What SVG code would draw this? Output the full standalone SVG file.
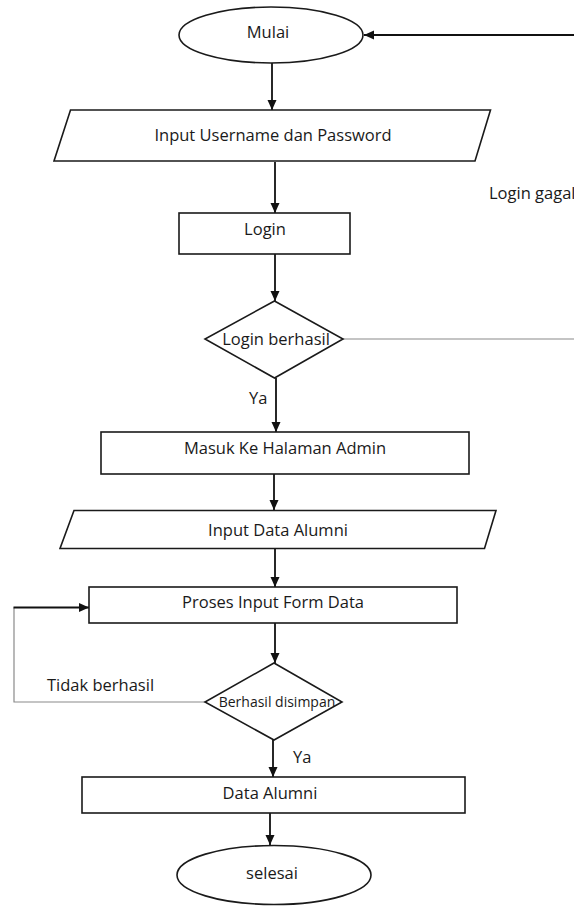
<svg xmlns="http://www.w3.org/2000/svg" width="574" height="906" viewBox="0 0 574 906">
<style>
.shape{fill:#fff;stroke:#1a1a1a;stroke-width:1.6}
.t{font-family:"Open Sans","Liberation Sans",sans-serif;font-size:16.5px;fill:#1a1a1a;text-anchor:middle}
.lbl{font-family:"Open Sans","Liberation Sans",sans-serif;font-size:16.5px;fill:#1a1a1a}
.c{fill:none;stroke:#111;stroke-width:1.8}
.g{fill:none;stroke:#8a8a8a;stroke-width:1.2}
</style>
<defs>
<marker id="ah" markerUnits="userSpaceOnUse" markerWidth="12" markerHeight="12" viewBox="0 0 12 12" refX="11" refY="6" orient="auto">
<path d="M1,1.5 L11,6 L1,10.5 Z" fill="#111"/>
</marker>
</defs>
<rect width="574" height="906" fill="#fff"/>
<g id="connectors">
<line class="c" x1="272" y1="63" x2="272" y2="110" marker-end="url(#ah)"/>
<line class="c" x1="275" y1="162" x2="275" y2="213" marker-end="url(#ah)"/>
<line class="c" x1="275" y1="254" x2="275" y2="301" marker-end="url(#ah)"/>
<line class="g" x1="343" y1="339" x2="574" y2="339"/>
<line class="c" x1="574" y1="35" x2="364" y2="35" marker-end="url(#ah)"/>
<line class="c" x1="276" y1="378" x2="276" y2="432" marker-end="url(#ah)"/>
<line class="c" x1="274" y1="474" x2="274" y2="510" marker-end="url(#ah)"/>
<line class="c" x1="275" y1="549" x2="275" y2="587" marker-end="url(#ah)"/>
<line class="c" x1="275" y1="623" x2="275" y2="663" marker-end="url(#ah)"/>
<polyline class="g" points="205,702 14,702 14,607.5"/>
<line class="c" x1="13.5" y1="607.5" x2="89" y2="607.5" marker-end="url(#ah)"/>
<line class="c" x1="273" y1="740" x2="273" y2="777" marker-end="url(#ah)"/>
<line class="c" x1="270" y1="813" x2="270" y2="845" marker-end="url(#ah)"/>
</g>
<g id="mulai">
<ellipse class="shape" cx="271" cy="35" rx="92" ry="28"/>
<text class="t" x="268" y="37.5">Mulai</text>
</g>
<g id="input-login">
<polygon class="shape" points="70.5,110 490.5,110 475,161 54,161"/>
<text class="t" x="273" y="140.5">Input Username dan Password</text>
</g>
<g id="login">
<rect class="shape" x="179" y="213" width="171" height="41"/>
<text class="t" x="265" y="234.5">Login</text>
</g>
<g id="cek-login">
<polygon class="shape" points="274.5,301 343,339 274.5,378 205,339"/>
<text class="t" x="276" y="344.5">Login berhasil</text>
</g>
<g id="label-gagal">
<text class="lbl" x="489" y="199">Login gagal</text>
</g>
<g id="label-ya1">
<text class="lbl" x="249" y="403.5">Ya</text>
</g>
<g id="admin">
<rect class="shape" x="101" y="432" width="368" height="42"/>
<text class="t" x="285" y="453.5">Masuk Ke Halaman Admin</text>
</g>
<g id="input-data">
<polygon class="shape" points="74,510.5 496,510.5 484.5,548.5 60,548.5"/>
<text class="t" x="278" y="536">Input Data Alumni</text>
</g>
<g id="proses">
<rect class="shape" x="89" y="587" width="368" height="36"/>
<text class="t" x="273" y="608">Proses Input Form Data</text>
</g>
<g id="cek-simpan">
<polygon class="shape" points="274,663 342,702 274,740 205,702"/>
<text class="t" x="277" y="706.5" style="font-size:14px">Berhasil disimpan</text>
</g>
<g id="label-tidak">
<text class="lbl" x="47" y="690.5">Tidak berhasil</text>
</g>
<g id="label-ya2">
<text class="lbl" x="293" y="762.5">Ya</text>
</g>
<g id="data-alumni">
<rect class="shape" x="82" y="777" width="383" height="36"/>
<text class="t" x="270" y="798.5">Data Alumni</text>
</g>
<g id="selesai">
<ellipse class="shape" cx="274" cy="875" rx="97" ry="29.5"/>
<text class="t" x="272" y="878.5">selesai</text>
</g>
</svg>
